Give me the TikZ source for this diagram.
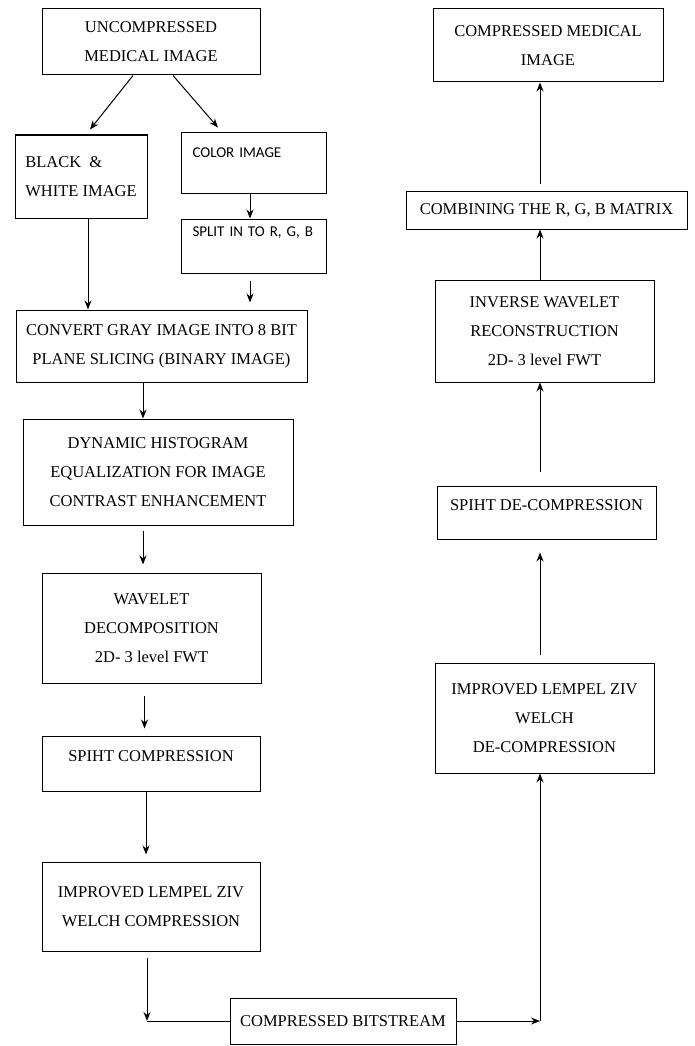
\documentclass[tikz,border=0pt]{standalone}
\usepackage{fontspec}
\setmainfont{Liberation Serif}
\newfontfamily\calfont{Carlito}
\usetikzlibrary{arrows.meta}

\begin{document}
\begin{tikzpicture}[x=1pt, y=-1pt,
    box/.style={draw, line width=1pt, align=center, inner sep=4pt,
      font=\fontsize{16.5pt}{29pt}\selectfont},
    small/.style={font=\calfont\fontsize{15pt}{18pt}\selectfont, align=left, text width=122pt},
    arr/.style={line width=1pt, -{Stealth[length=9pt, width=7pt]}}]
      \useasboundingbox (0,0) rectangle (694,1046);

      % left column
      \node [box, minimum width=218pt, minimum height=66pt] (unc) at (151,42) {UNCOMPRESSED\\MEDICAL IMAGE};
      \node [box, align=left, minimum width=132pt, minimum height=83pt] (bw) at (81,176.5) {BLACK \ \&\\WHITE IMAGE};
      \node [box, small, minimum width=145pt, minimum height=60pt, text depth=20pt] (col) at (253.5,163) {COLOR IMAGE};
      \node [box, small, minimum width=145pt, minimum height=54pt, text depth=28pt] (spl) at (253.5,246) {SPLIT IN TO R, G, B};
      \node [box, minimum width=291pt, minimum height=72pt] (conv) at (161.5,346) {CONVERT GRAY IMAGE INTO 8 BIT\\PLANE SLICING (BINARY IMAGE)};
      \node [box, minimum width=270pt, minimum height=106pt] (dyn) at (158,472) {DYNAMIC HISTOGRAM\\EQUALIZATION FOR IMAGE\\CONTRAST ENHANCEMENT};
      \node [box, minimum width=219pt, minimum height=110pt] (wav) at (151.5,628) {WAVELET\\DECOMPOSITION\\2D- 3 level FWT};
      \node [box, minimum width=218pt, minimum height=55pt, text depth=15pt] (spc) at (151,763.5) {SPIHT COMPRESSION};
      \node [box, minimum width=218pt, minimum height=89pt] (lzwc) at (151,906.5) {IMPROVED LEMPEL ZIV\\WELCH COMPRESSION};
      \node [box, minimum width=226pt, minimum height=46pt] (bits) at (343,1021) {COMPRESSED BITSTREAM};

      % right column
      \node [box, minimum width=230pt, minimum height=73pt] (cmi) at (548,45.5) {COMPRESSED MEDICAL\\IMAGE};
      \node [box, minimum width=281pt, minimum height=38pt] (comb) at (546.5,210) {COMBINING THE R, G, B MATRIX};
      \node [box, minimum width=219pt, minimum height=102pt] (inv) at (544.5,331) {INVERSE WAVELET\\RECONSTRUCTION\\2D- 3 level FWT};
      \node [box, minimum width=219pt, minimum height=53pt, text depth=15pt] (spd) at (546.5,512.5) {SPIHT DE-COMPRESSION};
      \node [box, minimum width=219pt, minimum height=110pt] (lzwd) at (544.5,718) {IMPROVED LEMPEL ZIV\\WELCH\\DE-COMPRESSION};

      \coordinate (c1) at (147,1021);
      \coordinate (c2) at (540,1021);

      % arrows, left side
      \draw[arr] ([xshift=-18pt]unc.south) -- ([xshift=9pt, yshift=5pt]bw.north);
      \draw[arr] ([xshift=22pt]unc.south) -- ([xshift=-35.5pt, yshift=5pt]col.north);
      \draw[arr] ([xshift=-3.5pt]col.south) -- ([xshift=-3.5pt]spl.north);
      \draw[arr, shorten <=7pt, shorten >=7pt] ([xshift=-3.5pt]spl.south) -- ([xshift=-3.5pt]spl.south |- conv.north);
      \draw[arr] ([xshift=7pt]bw.south) -- ([xshift=7pt]bw.south |- conv.north);
      \draw[arr] ([xshift=-18.5pt]conv.south) -- ([xshift=-18.5pt]conv.south |- dyn.north);
      \draw[arr, shorten <=5pt, shorten >=8pt] ([xshift=-15pt]dyn.south) -- ([xshift=-15pt]dyn.south |- wav.north);
      \draw[arr, shorten <=12pt, shorten >=7pt] ([xshift=-7pt]wav.south) -- ([xshift=-7pt]wav.south |- spc.north);
      \draw[arr, shorten >=7pt] ([xshift=-5pt]spc.south) -- ([xshift=-5pt]spc.south |- lzwc.north);
      \draw[arr, shorten <=6pt] (c1 |- lzwc.south) -- (c1);
      \draw[line width=1pt] (c1) -- (bits.west);

      % arrows, right side
      \draw[arr] (bits.east) -- (c2);
      \draw[arr] (c2) -- (c2 |- lzwd.south);
      \draw[arr, shorten <=8pt, shorten >=13pt] (c2 |- lzwd.north) -- (c2 |- spd.south);
      \draw[arr, shorten <=14pt] (c2 |- spd.north) -- (c2 |- inv.south);
      \draw[arr] (c2 |- inv.north) -- (c2 |- comb.south);
      \draw[arr, shorten <=7pt] (c2 |- comb.north) -- (c2 |- cmi.south);

\end{tikzpicture}
\end{document}
